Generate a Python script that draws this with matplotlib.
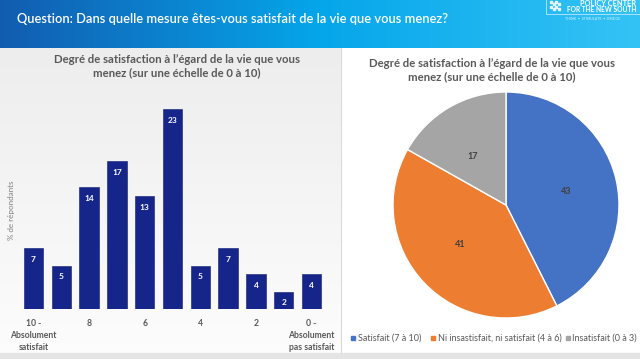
import numpy as np
import matplotlib
matplotlib.use("Agg")
import matplotlib.pyplot as plt

# ---- data ----
scores = ["10", "9", "8", "7", "6", "5", "4", "3", "2", "1", "0"]
bar_values = [7, 5, 14, 17, 13, 23, 5, 7, 4, 2, 4]
tick_labels = ["10 -\nAbsolument\nsatisfait", "", "8", "", "6", "", "4", "", "2", "", "0 -\nAbsolument\npas satisfait"]
pie_labels = ["Satisfait (7 à 10)", "Ni insastisfait, ni satisfait (4 à 6)", "Insatisfait (0 à 3)"]
pie_values = [43, 41, 17]
pie_colors = ["#4472C4", "#ED7D31", "#A5A5A5"]
question = "Question: Dans quelle mesure êtes-vous satisfait de la vie que vous menez?"
chart_title = "Degré de satisfaction à l’égard de la vie que vous\nmenez (sur une échelle de 0 à 10)"

W, H = 640, 359
fig = plt.figure(figsize=(W / 100, H / 100), dpi=100)
FONT = "Lato"
GREY = "#595959"

def fx(px):
    return px / W

def fy(py):
    return 1 - py / H

# ---- background ----
bg = fig.add_axes([0, 0, 1, 1])
bg.set_xlim(0, W)
bg.set_ylim(H, 0)
bg.axis("off")
grad = np.linspace(0, 1, 256).reshape(-1, 1)
bg.imshow(np.dstack([0.93 + 0.06 * grad, 0.93 + 0.06 * grad, 0.93 + 0.06 * grad]),
          extent=[0, 341, 353, 48], aspect="auto", zorder=0)
bg.add_patch(plt.Rectangle((341, 48), W - 341, 305, color="white", zorder=1))
bg.plot([341, 341], [48, 353], color="#D9D9D9", lw=0.8, zorder=2)
bg.add_patch(plt.Rectangle((0, 353), W, 6, color="#E4E4E4", zorder=1))
t = np.linspace(0, 1, 512)
c0 = np.array([0x12, 0x5C, 0xB0]) / 255
c1 = np.array([0x05, 0xA6, 0xEA]) / 255
c2 = np.array([0x35, 0xC3, 0xF6]) / 255
cols = np.where(t[:, None] < 0.5, c0 + (c1 - c0) * (t[:, None] / 0.5), c1 + (c2 - c1) * ((t[:, None] - 0.5) / 0.5))
bg.imshow(cols[None, :, :], extent=[0, W, 48, 0], aspect="auto", zorder=3)
bg.text(17, 19, question, color="white", fontsize=9.3, family=FONT, fontweight="semibold",
        va="center", ha="left", zorder=4)
# logo
bg.add_patch(plt.Rectangle((546, -4), 100, 18, fill=False, ec="#BFE9FB", lw=0.6, zorder=4))
for i in range(4):
    for j in range(4):
        if (i + j) % 2 == 0:
            bg.add_patch(plt.Rectangle((550 + i * 2.6, 0.5 + j * 2.6), 2.0, 2.0, color="#E6F7FE", zorder=4))
bg.text(636, 3.5, "POLICY CENTER", color="white", fontsize=5.3, family=FONT, fontweight="bold",
        va="center", ha="right", zorder=4)
bg.text(636, 10, "FOR THE NEW SOUTH", color="white", fontsize=4.8, family=FONT, fontweight="bold",
        va="center", ha="right", zorder=4)
bg.text(593, 19, "THINK  •  STIMULATE  •  BRIDGE", color="#D8F2FD", fontsize=2.6, family=FONT,
        va="center", ha="center", zorder=4)

# titles
fig.text(fx(177), fy(66), chart_title, ha="center", va="center", fontsize=8.2, family=FONT,
         fontweight="bold", color=GREY, linespacing=1.3)
fig.text(fx(492), fy(70), chart_title, ha="center", va="center", fontsize=8.2, family=FONT,
         fontweight="bold", color=GREY, linespacing=1.3)

# ---- bar chart ----
ax = fig.add_axes([fx(19.6), fy(309), fx(325.4) - fx(19.6), fy(92) - fy(309)])
ax.patch.set_alpha(0)
x = np.arange(len(scores))
ax.bar(x, bar_values, width=0.7, color="#15258A", edgecolor="#0E1C70", lw=0.4)
for xi, v in zip(x, bar_values):
    ax.text(xi, v - 1.25, str(v), ha="center", va="center", color="white", fontsize=6,
            family=FONT, fontweight="bold")
ax.set_xlim(-0.5, len(scores) - 0.5)
ax.set_ylim(0, 25)
ax.set_xticks(x)
ax.set_xticklabels(tick_labels, fontsize=6.2, family=FONT, fontweight="bold", color=GREY, linespacing=1.45)
ax.tick_params(axis="x", length=0, pad=7)
ax.set_yticks([])
for s in ax.spines.values():
    s.set_visible(False)
fig.text(fx(12), fy(210), "% de répondants", rotation=90, ha="center", va="center",
         fontsize=5.8, family=FONT, color="#7F7F7F")

# ---- pie chart ----
R = 113
pax = fig.add_axes([fx(506 - R), fy(205 + R), fx(2 * R), 2 * R / H])
pax.pie(pie_values, colors=pie_colors, startangle=90, counterclock=False,
        labels=[str(v) for v in pie_values], labeldistance=0.5,
        wedgeprops=dict(edgecolor="white", linewidth=1.0),
        textprops=dict(fontsize=6.5, family=FONT, fontweight="bold", color="#404040"))
pax.set_xlim(-1, 1)
pax.set_ylim(-1, 1)
pax.set_aspect("equal")

# legend
legend_x = [351, 431, 566]
for lx, lab, col in zip(legend_x, pie_labels, pie_colors):
    bg.add_patch(plt.Rectangle((lx, 335.5), 4, 4, color=col, zorder=5))
    bg.text(lx + 6.5, 338, lab, fontsize=6.5, family=FONT, color=GREY, va="center", ha="left", zorder=5)

fig.savefig("out.png", dpi=100)
